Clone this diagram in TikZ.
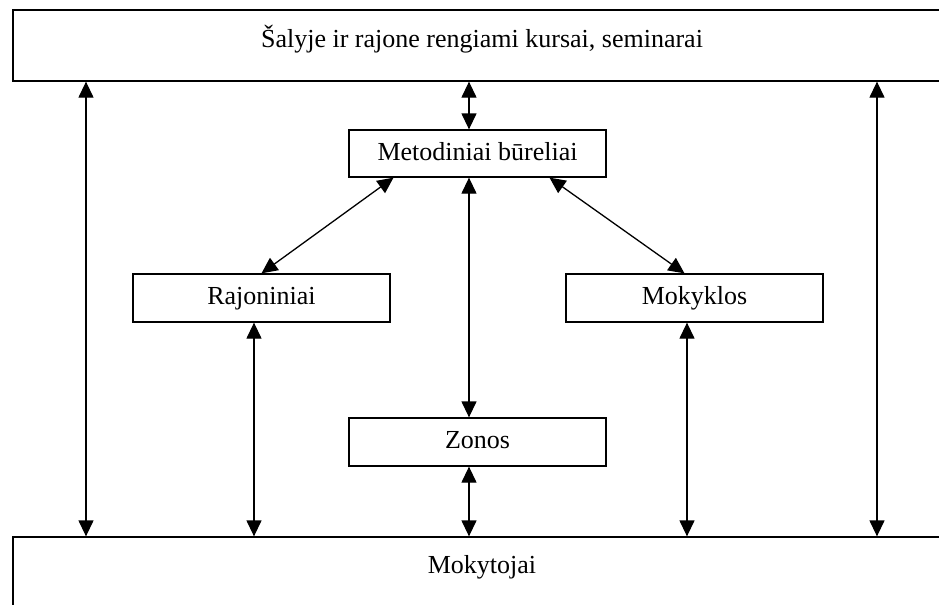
\documentclass[tikz,border=0pt]{standalone}
\usepackage{fontspec}
\setmainfont{Liberation Serif}
\usetikzlibrary{arrows.meta}

\tikzset{
  blok/.style={draw, line width=0.65pt, inner sep=0pt, minimum width=128.5pt,
    minimum height=24pt, text height=0.66em, text depth=0pt,
    font=\fontsize{13}{15}\selectfont},
  rysys/.style={{Triangle[length=8pt,width=7.5pt]}-{Triangle[length=8pt,width=7.5pt]},
    line width=0.65pt}
}

\begin{document}
\begin{tikzpicture}[x=0.5pt, y=-0.5pt]
  \useasboundingbox (0,0) rectangle (939,605);

  % Draw the boxes
  \node[blok, minimum width=469pt, text height=18.5pt, text depth=17pt] (kursai) at (482,45.5) {Šalyje ir rajone rengiami kursai, seminarai};
  \node[blok, minimum height=23.5pt] (meto) at (477.5,153.5) {Metodiniai būreliai};
  \node[blok] (rajon) at (261.5,298) {Rajoniniai};
  \node[blok] (mokyklos) at (694.5,298) {Mokyklos};
  \node[blok] (zonos) at (477.5,442) {Zonos};
  \node[blok, minimum width=469pt, text height=18pt, text depth=18pt] (mokytojai) at (482,573) {Mokytojai};

  % Columns of the vertical arrows
  \coordinate (xk) at (86,0);
  \coordinate (xr) at (254,0);
  \coordinate (xc) at (469,0);
  \coordinate (xm) at (687,0);
  \coordinate (xd) at (877,0);

  % Draw the arrows
  \draw[rysys] (kursai.south -| xk) -- (mokytojai.north -| xk);
  \draw[rysys] (kursai.south -| xd) -- (mokytojai.north -| xd);
  \draw[rysys] (kursai.south -| xc) -- (meto.north -| xc);
  \draw[rysys] (meto.south -| xc) -- (zonos.north -| xc);
  \draw[rysys] (zonos.south -| xc) -- (mokytojai.north -| xc);
  \draw[rysys] (rajon.south -| xr) -- (mokytojai.north -| xr);
  \draw[rysys] (mokyklos.south -| xm) -- (mokytojai.north -| xm);

  % Diagonal arrows
  \draw[rysys] ([xshift=-42pt]meto.south) -- (rajon.north);
  \draw[rysys] ([xshift=36pt]meto.south) -- ([xshift=-5pt]mokyklos.north);
\end{tikzpicture}
\end{document}
